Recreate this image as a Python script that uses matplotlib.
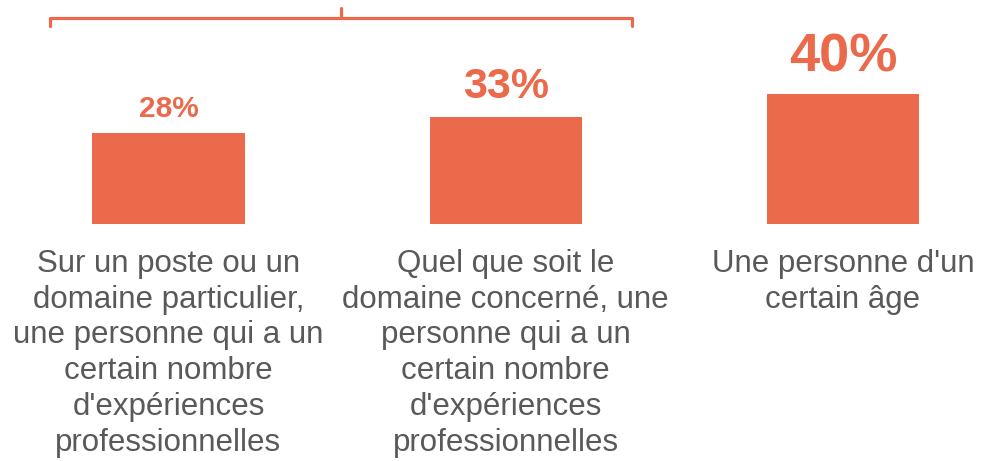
import matplotlib.pyplot as plt

categories = [
    "Sur un poste ou un\ndomaine particulier,\nune personne qui a un\ncertain nombre\nd'expériences\nprofessionnelles",
    "Quel que soit le\ndomaine concerné, une\npersonne qui a un\ncertain nombre\nd'expériences\nprofessionnelles",
    "Une personne d'un\ncertain âge",
]
values = [28, 33, 40]
value_labels = ["28%", "33%", "40%"]
label_sizes = [21.5, 31, 39]

orange = '#EC6A4C'
grey = '#595959'
plt.rcParams['font.family'] = ['Liberation Sans', 'DejaVu Sans']

fig = plt.figure(figsize=(9.82, 4.61), dpi=100)
ax = fig.add_axes([0, 0, 1, 1])
ax.set_xlim(-0.4996, 2.412)
ax.set_ylim(-72.9, 68.9)
ax.axis('off')

x = range(len(values))
ax.bar(x, values, width=0.451, color=orange)

for i, v in enumerate(values):
    ax.annotate(value_labels[i], xy=(i, v), xytext=(0, 11.5 + i * 2.2), textcoords='offset points',
                ha='center', va='baseline', fontsize=label_sizes[i], fontweight='bold', color=orange)
    ax.annotate(categories[i], xy=(i, 0), xytext=(0, -18), textcoords='offset points',
                ha='center', va='top', fontsize=22.5, color=grey, linespacing=1.25)

# bracket over the first two bars
x0, x1 = -0.351, 1.374
xm = (x0 + x1) / 2
ax.plot([x0, x0, x1, x1], [61.0, 63.4, 63.4, 61.0], color=orange, lw=2.3,
        solid_joinstyle='round', solid_capstyle='round')
ax.plot([xm, xm], [63.4, 66.5], color=orange, lw=2.3, solid_capstyle='round')

fig.savefig('out.png', dpi=100)
